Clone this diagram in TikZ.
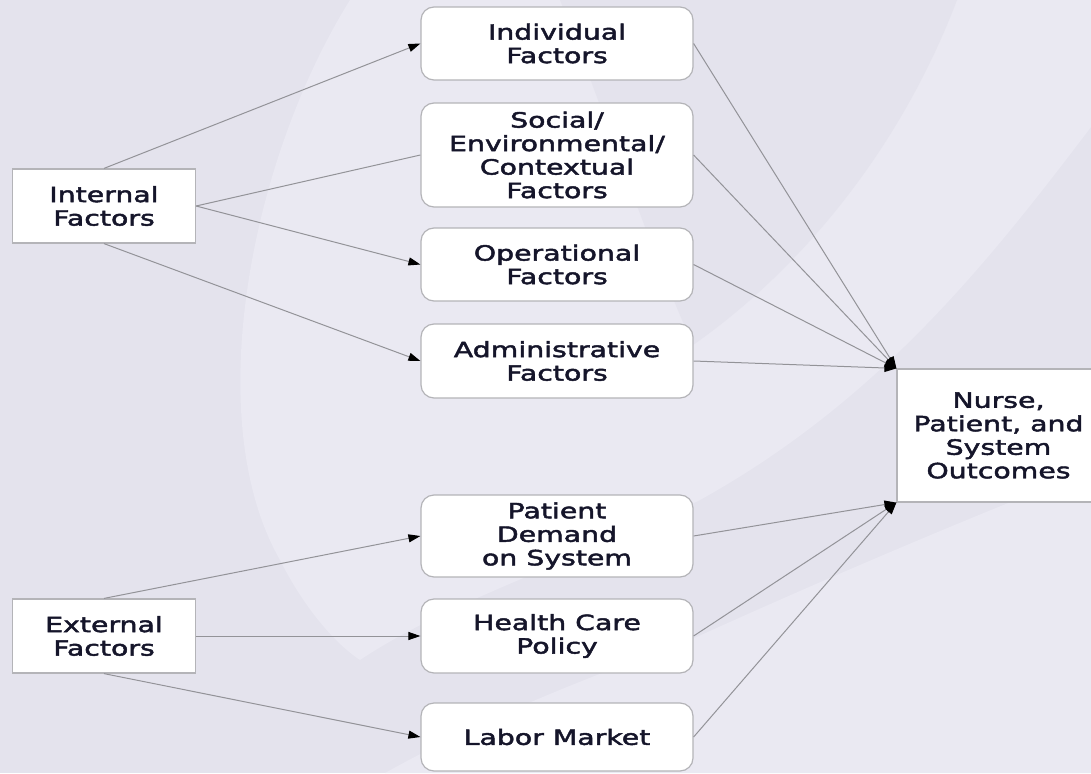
\documentclass[tikz,border=0pt]{standalone}
\usepackage{fontspec}
\newfontfamily\boxfont[FakeStretch=1.35, FakeBold=2.2]{DejaVu Sans}
\definecolor{BackDark}{HTML}{E4E3ED}
\definecolor{BackLight}{HTML}{EAE9F2}
\definecolor{BoxBorder}{HTML}{B4B4B8}
\definecolor{LinkGray}{HTML}{939398}
\definecolor{BoxText}{HTML}{15152A}
\usetikzlibrary{arrows.meta}
\tikzset{
    factor/.style={draw=BoxBorder, line width=1.2pt, fill=white, text=BoxText,
        font=\boxfont\fontsize{21}{23.5}\selectfont, align=center, inner sep=0pt},
    sqbox/.style={factor, minimum width=183pt, minimum height=74pt},
    rdbox/.style={factor, rounded corners=13pt, minimum width=272pt},
    link/.style={draw=LinkGray, line width=1pt},
    arrowlink/.style={link, -{Triangle[length=12pt, width=8pt, color=black]}}
}

\begin{document}
\begin{tikzpicture}[x=1pt, y=-1pt]

\useasboundingbox (0,0) rectangle (1091,773);
\clip (0,0) rectangle (1091,773);

% Fondo
\fill[BackDark] (0,0) rectangle (1091,773);
\fill[BackLight] (350,0) .. controls (250,160) and (200,420) .. (280,560)
    .. controls (300,600) and (330,640) .. (360,660)
    .. controls (450,600) and (580,560) .. (700,500)
    .. controls (880,400) and (990,260) .. (1091,127) -- (1091,0) -- cycle;
\fill[BackLight] (385,773) .. controls (480,720) and (580,680) .. (690,640)
    .. controls (800,590) and (950,525) .. (1091,470) -- (1091,773) -- cycle;
\fill[BackDark] (560,0) -- (957,0) .. controls (900,150) and (800,270) .. (693,345)
    .. controls (650,250) and (600,100) .. (560,0) -- cycle;

% Cajas
\node[sqbox] (internal) at (104,206) {Internal\\Factors};
\node[sqbox] (external) at (104,636) {External\\Factors};

\node[rdbox, minimum height=73pt] (individual) at (557,43.5) {Individual\\Factors};
\node[rdbox, minimum height=104pt] (social) at (557,155) {Social/\\Environmental/\\Contextual\\Factors};
\node[rdbox, minimum height=73pt] (operational) at (557,264.5) {Operational\\Factors};
\node[rdbox, minimum height=74pt] (administrative) at (557,361) {Administrative\\Factors};
\node[rdbox, minimum height=82pt] (demand) at (557,536) {Patient\\Demand\\on System};
\node[rdbox, minimum height=74pt] (policy) at (557,636) {Health Care\\Policy};
\node[rdbox, minimum height=68pt] (labor) at (557,737) {Labor Market};

\node[factor, minimum width=203pt, minimum height=133pt] (outcomes) at (998.5,435.5)
    {Nurse,\\Patient, and\\System\\Outcomes};

% Conexiones
\draw[arrowlink] (internal.north) -- (individual.west);
\draw[link] (internal.east) -- (social.west);
\draw[arrowlink] (internal.east) -- (operational.west);
\draw[arrowlink] (internal.south) -- (administrative.west);

\draw[arrowlink] (external.north) -- (demand.west);
\draw[arrowlink] (external.east) -- (policy.west);
\draw[arrowlink] (external.south) -- (labor.west);

\foreach \src in {individual, social, operational, administrative}
    \draw[arrowlink] (\src.east) -- (outcomes.north west);
\foreach \src in {demand, policy, labor}
    \draw[arrowlink] (\src.east) -- (outcomes.south west);

\end{tikzpicture}
\end{document}
